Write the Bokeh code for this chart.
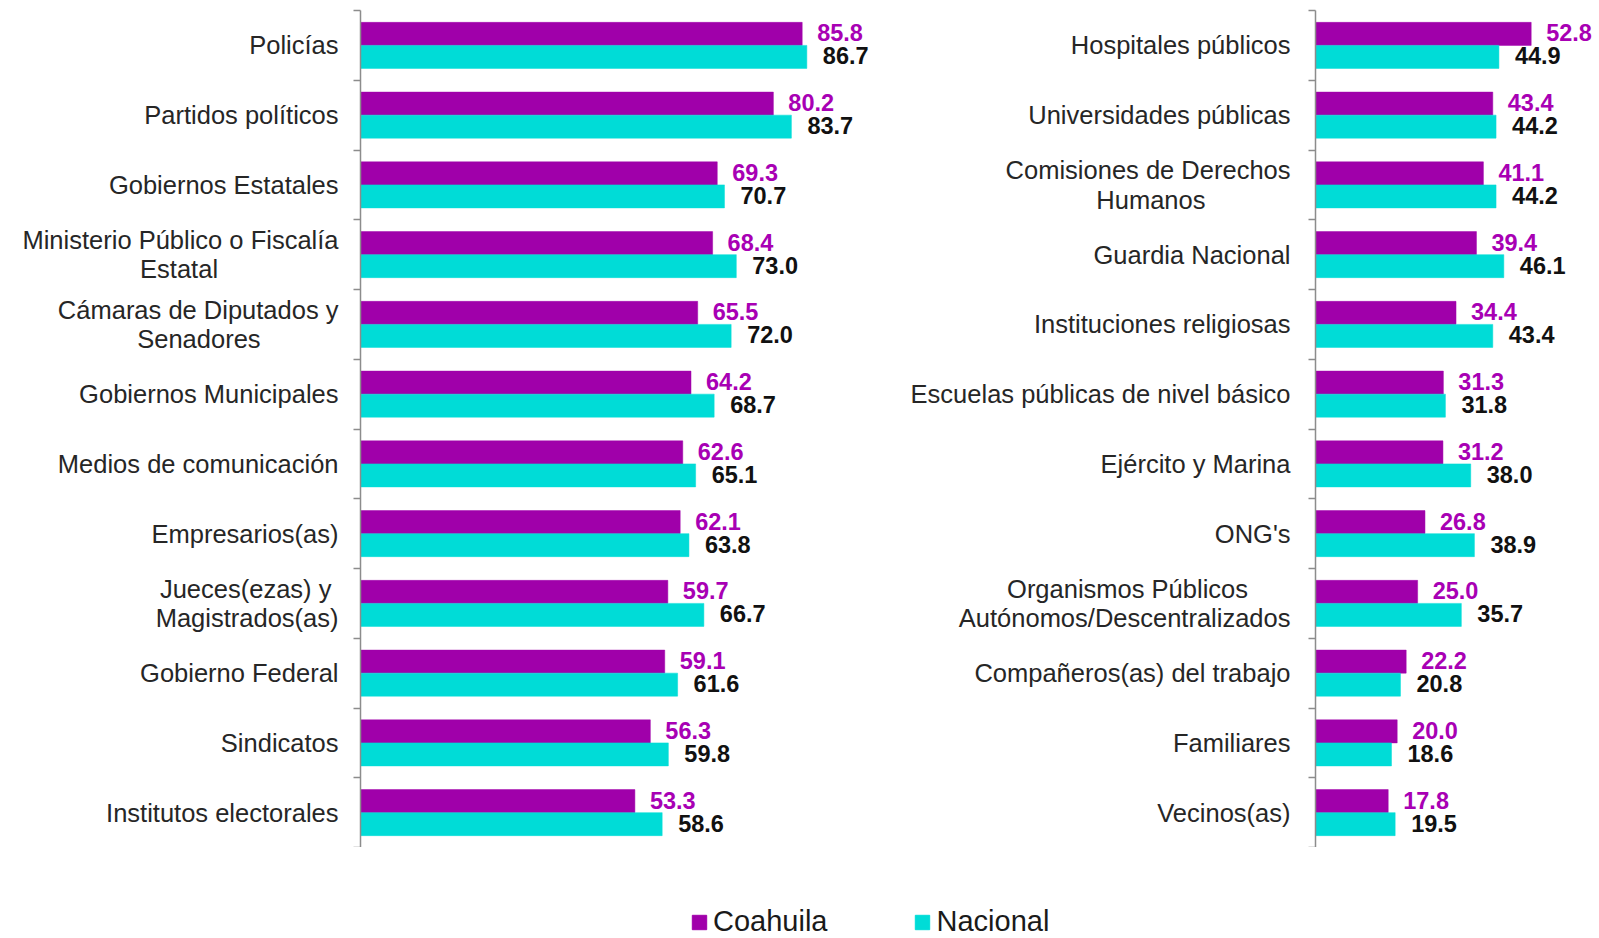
from bokeh.plotting import figure
from bokeh.models import Range1d, FixedTicker, ColumnDataSource, Legend, LegendItem
from bokeh.layouts import row, column
from bokeh.embed import file_html
from bokeh.resources import INLINE
from bokeh.core.properties import value
from bokeh.transform import dodge

# ---------------- data ----------------
series_names = ["Coahuila", "Nacional"]

left_categories = [
    "Policías",
    "Partidos políticos",
    "Gobiernos Estatales",
    "Ministerio Público o Fiscalía\nEstatal",
    "Cámaras de Diputados y\nSenadores",
    "Gobiernos Municipales",
    "Medios de comunicación",
    "Empresarios(as)",
    "Jueces(ezas) y\nMagistrados(as)",
    "Gobierno Federal",
    "Sindicatos",
    "Institutos electorales",
]
left_coahuila = [85.8, 80.2, 69.3, 68.4, 65.5, 64.2, 62.6, 62.1, 59.7, 59.1, 56.3, 53.3]
left_nacional = [86.7, 83.7, 70.7, 73.0, 72.0, 68.7, 65.1, 63.8, 66.7, 61.6, 59.8, 58.6]

right_categories = [
    "Hospitales públicos",
    "Universidades públicas",
    "Comisiones de Derechos\nHumanos",
    "Guardia Nacional",
    "Instituciones religiosas",
    "Escuelas públicas de nivel básico",
    "Ejército y Marina",
    "ONG's",
    "Organismos Públicos\nAutónomos/Descentralizados",
    "Compañeros(as) del trabajo",
    "Familiares",
    "Vecinos(as)",
]
right_coahuila = [52.8, 43.4, 41.1, 39.4, 34.4, 31.3, 31.2, 26.8, 25.0, 22.2, 20.0, 17.8]
right_nacional = [44.9, 44.2, 44.2, 46.1, 43.4, 31.8, 38.0, 38.9, 35.7, 20.8, 18.6, 19.5]

# ---------------- style ----------------
PURPLE = "#A000AA"
CYAN = "#00DCD7"
PURPLE_TXT = "#A800B4"
VALUE_TXT = "#111111"
AXIS = "#8C8C8C"
LABEL_TXT = "#262626"
FONT = "Liberation Sans"

W_TOTAL = 1599
H_TOTAL = 938
W1 = 888
TOP = 10
FRAME_H = 837
ROW_H = TOP + FRAME_H
BAR_H = 0.33
DODGE = 0.165

# advance widths (1/1000 em) of Liberation Sans, used to centre the lines
# of two-line category labels (Bokeh right-aligns each line of a tick label)
_ADV = {" ": 278, "\u00a0": 278, "(": 333, ")": 333, "/": 278, "'": 191, ".": 278}
_ADV.update(dict(zip("abcdefghijklmnopqrstuvwxyz",
                     [556, 556, 500, 556, 556, 278, 556, 556, 222, 222, 500, 222, 833,
                      556, 556, 556, 556, 333, 500, 278, 556, 500, 722, 500, 500, 500])))
_ADV.update(dict(zip("ABCDEFGHIJKLMNOPQRSTUVWXYZ",
                     [667, 667, 722, 722, 667, 611, 778, 722, 278, 500, 667, 556, 833,
                      722, 778, 667, 778, 722, 667, 611, 722, 667, 944, 667, 667, 611])))
_ADV.update({"á": 556, "é": 556, "í": 278, "ó": 556, "ú": 556, "ñ": 556})


def _width(s):
    return sum(_ADV.get(ch, 556) for ch in s)


def centred(label):
    lines = label.split("\n")
    if len(lines) == 1:
        return label
    w = max(_width(l) for l in lines)
    return "\n".join(l + "\u00a0" * int(round((w - _width(l)) / 2 / 278)) for l in lines)


def panel(cats, coa, nac, width, border_left, px_per_unit, standoff):
    n = len(cats)
    pos = list(range(1, n + 1))
    src = ColumnDataSource(dict(
        pos=pos, coa=coa, nac=nac,
        coa_lbl=[f"{v:.1f}" for v in coa],
        nac_lbl=[f"{v:.1f}" for v in nac],
    ))
    p = figure(width=width, height=ROW_H,
               x_range=Range1d(0, (width - border_left) / px_per_unit),
               y_range=Range1d(n + 0.5, 0.5),
               output_backend="svg", toolbar_location=None,
               x_axis_location=None, y_axis_location="left",
               min_border_left=border_left, min_border_right=0,
               min_border_top=TOP, min_border_bottom=0)
    p.hbar(y=dodge("pos", -DODGE), left=0, right="coa", height=BAR_H, source=src,
           fill_color=PURPLE, line_color=PURPLE, line_width=0.5)
    p.hbar(y=dodge("pos", DODGE), left=0, right="nac", height=BAR_H, source=src,
           fill_color=CYAN, line_color=CYAN, line_width=0.5)
    p.text(x="coa", y=dodge("pos", -DODGE), text="coa_lbl", source=src,
           x_offset=15, y_offset=-1, text_baseline="middle", text_align="left",
           text_font=value(FONT), text_font_size="23.5px", text_font_style="bold",
           text_color=PURPLE_TXT)
    p.text(x="nac", y=dodge("pos", DODGE), text="nac_lbl", source=src,
           x_offset=16, y_offset=-1, text_baseline="middle", text_align="left",
           text_font=value(FONT), text_font_size="23.5px", text_font_style="bold",
           text_color=VALUE_TXT)

    ax = p.yaxis[0]
    ax.ticker = FixedTicker(ticks=pos, minor_ticks=[k + 0.5 for k in range(0, n + 1)])
    ax.major_label_overrides = {i + 1: centred(c) for i, c in enumerate(cats)}
    ax.major_tick_out = 0
    ax.major_tick_in = 0
    ax.minor_tick_out = 7
    ax.minor_tick_in = 0
    ax.axis_line_color = AXIS
    ax.axis_line_width = 1.5
    ax.minor_tick_line_color = AXIS
    ax.minor_tick_line_width = 1.5
    ax.major_label_standoff = standoff
    ax.major_label_text_font = FONT
    ax.major_label_text_font_size = "25.5px"
    ax.major_label_text_color = LABEL_TXT
    ax.major_label_text_line_height = 1.05

    p.grid.visible = False
    p.outline_line_color = None
    return p


# left panel: axis at page x=360, 5.148 px per unit
p1 = panel(left_categories, left_coahuila, left_nacional, W1, 360, 5.148, 15)
# right panel: axis at page x=1315, 4.085 px per unit
p2 = panel(right_categories, right_coahuila, right_nacional,
           W_TOTAL - W1, 1315 - W1, 4.085, 18)

# legend strip under both panels; the series renderers here are hidden and
# only serve as legend proxies
p3 = figure(width=W_TOTAL, height=H_TOTAL - ROW_H, output_backend="svg",
            toolbar_location=None, x_axis_location=None, y_axis_location=None,
            x_range=Range1d(0, 1), y_range=Range1d(0, 1), min_border=0)
p3.grid.visible = False
p3.outline_line_color = None
leg_src = ColumnDataSource(dict(pos=list(range(1, len(left_categories) + 1)),
                                coa=left_coahuila, nac=left_nacional))
proxy_coa = p3.hbar(y="pos", right="coa", height=BAR_H, source=leg_src,
                    fill_color=PURPLE, line_color=PURPLE, visible=False)
proxy_nac = p3.hbar(y="pos", right="nac", height=BAR_H, source=leg_src,
                    fill_color=CYAN, line_color=CYAN, visible=False)
legend = Legend(items=[LegendItem(label=series_names[0], renderers=[proxy_coa]),
                       LegendItem(label=series_names[1], renderers=[proxy_nac])],
                orientation="horizontal", location=(690, 0),
                glyph_width=18, glyph_height=18, label_standoff=5, spacing=86,
                padding=0, margin=0, border_line_color=None,
                background_fill_alpha=0, inactive_fill_alpha=0,
                label_text_font=FONT, label_text_font_size="29px",
                label_text_color="#1a1a1a")
p3.add_layout(legend)

layout = column(row(p1, p2, spacing=0), p3, spacing=0)
open("out.html", "w").write(file_html(layout, INLINE))
